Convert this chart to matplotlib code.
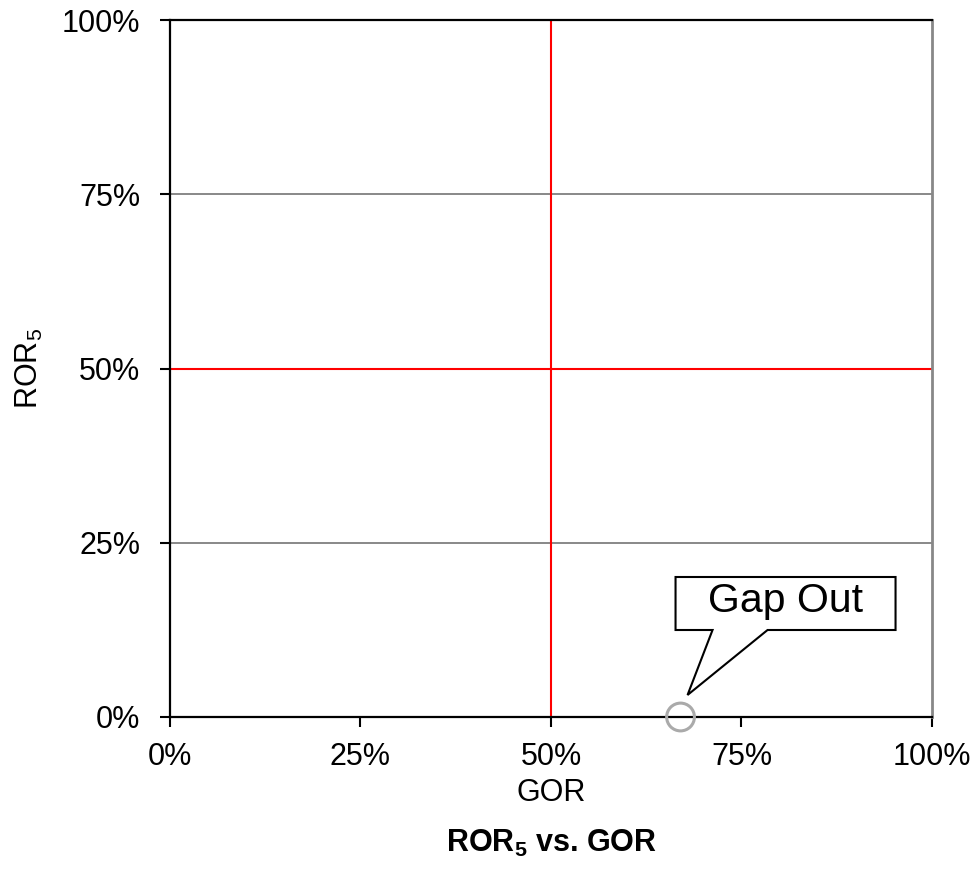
import matplotlib
matplotlib.use("Agg")
import matplotlib.pyplot as plt
import matplotlib.transforms as mtransforms
from matplotlib.patches import Polygon
from matplotlib.ticker import FixedLocator, FuncFormatter

plt.rcParams['font.family'] = ['Liberation Sans', 'DejaVu Sans']
plt.rcParams['mathtext.default'] = 'regular'

# Data
gor = [0.67]
ror5 = [0.0]
point_label = "Gap Out"
tick_values = [0.0, 0.25, 0.5, 0.75, 1.0]
x_label = "GOR"
y_label = r"ROR$_5$"
title = r"ROR$_5$ vs. GOR"

fig = plt.figure(figsize=(9.78, 8.90), dpi=100)
ax = fig.add_axes([170 / 978, 1 - 717 / 890, (932 - 170) / 978, (717 - 20) / 890])

ax.set_xlim(0, 1)
ax.set_ylim(0, 1)
ax.xaxis.set_major_locator(FixedLocator(tick_values))
ax.yaxis.set_major_locator(FixedLocator(tick_values))
pct = FuncFormatter(lambda v, _: f"{v * 100:.0f}%")
ax.xaxis.set_major_formatter(pct)
ax.yaxis.set_major_formatter(pct)
ax.tick_params(axis='both', labelsize=22, length=7, width=1.5, direction='out',
               color='black')
ax.tick_params(axis='x', pad=11)
ax.tick_params(axis='y', pad=14.5)

# Gridlines: gray quarters, red midlines
for v in (0.25, 0.75):
    ax.axhline(v, color='#888888', lw=1.4, zorder=1)
ax.axhline(0.5, color='#ff0000', lw=1.5, zorder=2)
ax.axvline(0.5, color='#ff0000', lw=1.5, zorder=2)

for side in ('left', 'bottom', 'top'):
    ax.spines[side].set_color('black')
    ax.spines[side].set_linewidth(1.6)
ax.spines['right'].set_color('#888888')
ax.spines['right'].set_linewidth(2.0)

ax.scatter(gor, ror5, s=400, facecolors='none', edgecolors='#aaaaaa',
           linewidths=2.2, zorder=5, clip_on=False)

# Callout box with pointer, laid out in inches relative to the point
px = 1 / 100.0
trans = fig.dpi_scale_trans + mtransforms.ScaledTranslation(gor[0], ror5[0], ax.transData)
left, right, bottom, top = -5 * px, 215 * px, 87 * px, 140 * px
tip = (7 * px, 22 * px)
wb0, wb1 = 32 * px, 87 * px
verts = [(left, bottom), (wb0, bottom), tip, (wb1, bottom), (right, bottom),
         (right, top), (left, top)]
ax.add_patch(Polygon(verts, closed=True, facecolor='white', edgecolor='black',
                     lw=1.5, transform=trans, clip_on=False, zorder=6))
ax.text((left + right) / 2, (bottom + top) / 2 + 2 * px, point_label, transform=trans,
        ha='center', va='center', fontsize=29.5, zorder=7)

ax.set_xlabel(x_label, fontsize=22, labelpad=4)
ax.set_ylabel(y_label, fontsize=22, labelpad=12)
fig.text(551 / 978, 1 - 843 / 890, title, ha='center', va='center',
         fontsize=22, fontweight='bold')

fig.savefig("out.png", dpi=100)
